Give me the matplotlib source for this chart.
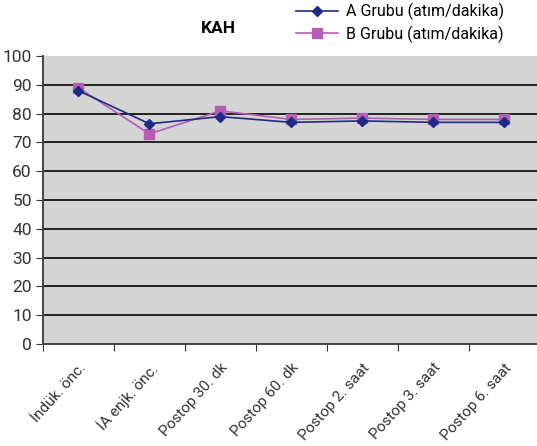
import matplotlib.pyplot as plt

categories = ["İndük. önc.", "İA enjk. önc.", "Postop 30. dk", "Postop 60. dk",
              "Postop 2. saat", "Postop 3. saat", "Postop 6. saat"]
grup_a = [88, 76.5, 79, 77, 77.5, 77, 77]
grup_b = [89, 73, 81, 78, 78.5, 78, 78]
yticks = list(range(0, 101, 10))

plt.rcParams["font.family"] = ["Roboto", "DejaVu Sans"]

fig = plt.figure(figsize=(5.37, 4.46), dpi=100)
ax = fig.add_axes([0.080, 0.229, 0.925, 0.645])
ax.set_facecolor("#d4d4d4")

x = list(range(len(categories)))
la, = ax.plot(x, grup_a, color="#1f2a85", marker="D", markersize=5.5, linewidth=1.2,
              label="A Grubu (atım/dakika)", zorder=4)
lb, = ax.plot(x, grup_b, color="#b55db5", marker="s", markersize=6.5, linewidth=1.2,
              label="B Grubu (atım/dakika)", zorder=3)

ax.set_xlim(-0.5, len(categories) - 0.5)
ax.set_ylim(0, 100)
ax.set_yticks(yticks)
ax.tick_params(axis="y", labelsize=12.5, colors="#333333", length=5, direction="out", pad=3)
for v in yticks[1:-1]:
    ax.axhline(v, color="#222222", linewidth=1.4, zorder=2)

ax.set_xticks([i - 0.5 for i in x])
ax.set_xticklabels([])
ax.set_xticks(x, minor=True)
ax.set_xticklabels(categories, minor=True, rotation=48, ha="right",
                   rotation_mode="anchor", fontsize=11, color="#333333")
ax.tick_params(axis="x", which="minor", length=0, pad=12)
ax.tick_params(axis="x", which="major", length=5, color="#333333")

for s in ["top", "right"]:
    ax.spines[s].set_visible(False)
for s in ["left", "bottom"]:
    ax.spines[s].set_color("#444444")
    ax.spines[s].set_linewidth(1.4)

fig.text(0.406, 0.937, "KAH", ha="center", va="center", fontsize=12.5, fontweight="bold")
fig.legend(handles=[la, lb], loc="upper left", bbox_to_anchor=(0.525, 1.025), frameon=False,
           fontsize=11.5, handlelength=2.6, labelspacing=0.3, handletextpad=0.5)

fig.savefig("out.png", dpi=100)
